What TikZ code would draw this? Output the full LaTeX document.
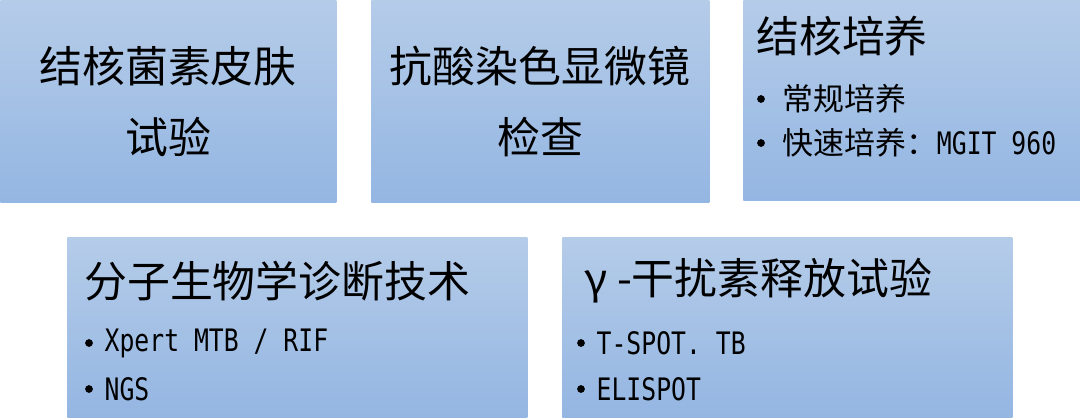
\documentclass[tikz,border=0pt]{standalone}
\usepackage{fontspec}
\setmainfont{Noto Sans CJK SC}
\newfontfamily\latinmono[FakeStretch=0.8]{DejaVu Sans Mono}
\definecolor{paneltop}{RGB}{181, 204, 233}
\definecolor{panelbottom}{RGB}{148, 182, 226}
\usetikzlibrary{positioning}

\begin{document}
\begin{tikzpicture}[x=0.025cm, y=-0.025cm,
            panel/.style={
                rectangle, anchor=north west, inner sep=0pt,
                top color=paneltop, bottom color=panelbottom, draw=none
            },
            title/.style={font=\fontsize{30.5}{36}\selectfont, inner sep=0pt},
            heading/.style={title, anchor=west},
            item/.style={font=\fontsize{22}{26}\selectfont, inner sep=0pt, anchor=west},
            dot/.style={circle, fill=black, inner sep=0pt, minimum size=5.5pt},
        ]
            \useasboundingbox (0,0) rectangle (1080,417);

            % panels
            \node [panel, minimum width=8.4cm, minimum height=5.05cm] (skin) at (0,0) {};
            \node [panel, minimum width=8.45cm, minimum height=5.05cm] (smear) at (371,0) {};
            \node [panel, minimum width=8.425cm, minimum height=5cm] (culture) at (743,0) {};
            \node [panel, minimum width=11.5cm, minimum height=4.5cm] (molecular) at (67,237) {};
            \node [panel, minimum width=11.25cm, minimum height=4.5cm] (igra) at (562,237) {};

            % centred titles
            \node [title] (skinA) at (168,66) {结核菌素皮肤};
            \node [title] (skinB) at (168,137) {试验};
            \node [title] (smearA) at (540,66) {抗酸染色显微镜};
            \node [title] (smearB) at (540,137) {检查};

            % titles with lists
            \node [heading] (cultureT) at (756,36) {结核培养};
            \node [dot] (cultureD1) at (761,99) {};
            \node [item] (cultureI1) [right=12pt of cultureD1] {常规培养};
            \node [dot] (cultureD2) at (761,143) {};
            \node [item] (cultureI2) [right=12pt of cultureD2] {快速培养：{\latinmono MGIT 960}};

            \node [heading] (molecularT) at (84,281) {分子生物学诊断技术};
            \node [dot] (molecularD1) at (89,343) {};
            \node [item] (molecularI1) [right=8pt of molecularD1] {\latinmono Xpert MTB / RIF};
            \node [dot] (molecularD2) at (89,389) {};
            \node [item] (molecularI2) [right=8pt of molecularD2] {\latinmono NGS};

            \node [heading] (igraT) at (584,281) {γ -干扰素释放试验};
            \node [dot] (igraD1) at (581,343) {};
            \node [item] (igraI1) [right=8pt of igraD1] {\latinmono T-SPOT. TB};
            \node [dot] (igraD2) at (581,389) {};
            \node [item] (igraI2) [right=8pt of igraD2] {\latinmono ELISPOT};

        \end{tikzpicture}
\end{document}
